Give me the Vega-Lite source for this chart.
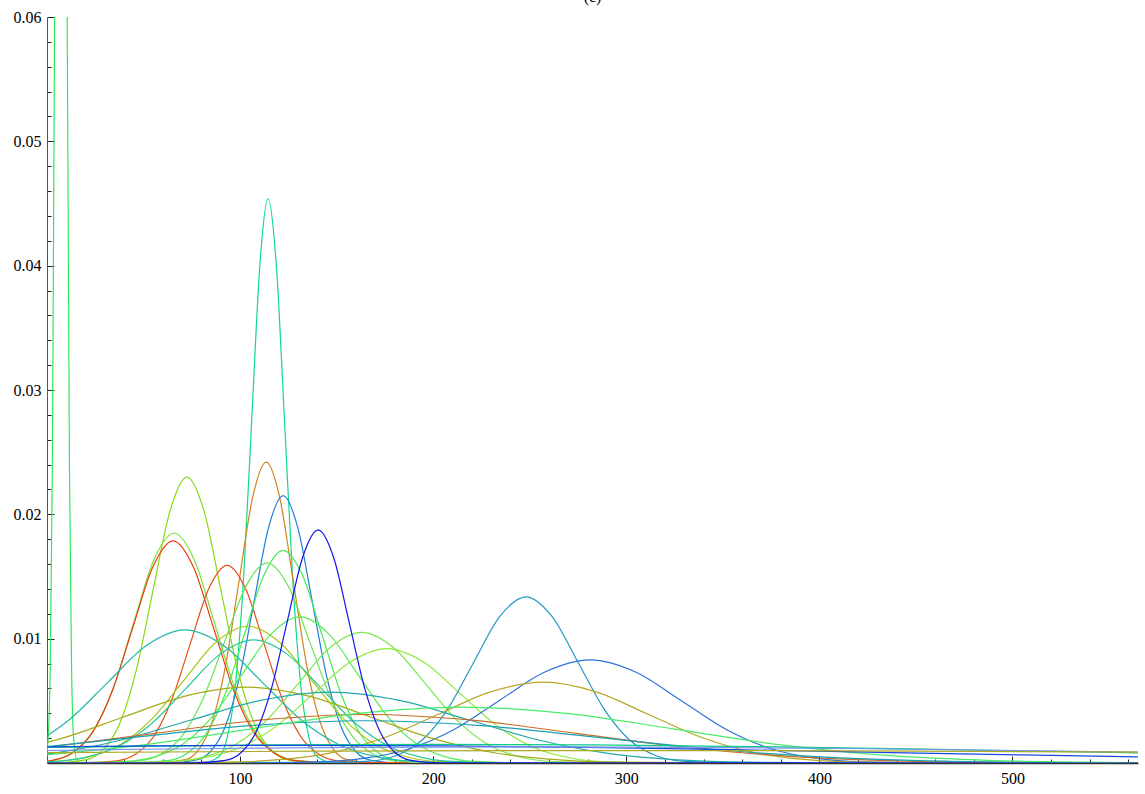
{
  "$schema": "https://vega.github.io/schema/vega-lite/v6.json",
  "width": 1091,
  "height": 746,
  "autosize": {"type": "none"},
  "padding": {"left": 47, "top": 17, "right": 7, "bottom": 31},
  "background": "white",
  "title": {"text": "(c)", "font": "Liberation Serif", "fontSize": 16, "fontWeight": "normal", "color": "#000", "anchor": "middle", "baseline": "bottom", "offset": 2, "dy": 14},
  "config": {"view": {"stroke": null}},
  "data": {"values": [
    {"c":"A","x":0,"y":0.0009},{"c":"A","x":0.6,"y":0.002},{"c":"A","x":1.7,"y":0.00791},{"c":"A","x":2.8,"y":0.02436},{"c":"A","x":3.9,"y":0.05844},{"c":"A","x":5.0,"y":0.10918},{"c":"A","x":6.1,"y":0.15885},{"c":"A","x":7.2,"y":0.18},{"c":"A","x":8.3,"y":0.15885},{"c":"A","x":9.4,"y":0.10918},{"c":"A","x":10.5,"y":0.05844},{"c":"A","x":11.6,"y":0.02436},{"c":"A","x":12.7,"y":0.00791},{"c":"A","x":13.8,"y":0.002},{"c":"A","x":16,"y":0.00006},{"c":"A","x":565,"y":0},
    {"c":"B","x":0,"y":0},{"c":"B","x":80.5,"y":0.000015},{"c":"B","x":89,"y":0.000504},{"c":"B","x":93.25,"y":0.001995},{"c":"B","x":97.5,"y":0.006144},{"c":"B","x":101.75,"y":0.014739},{"c":"B","x":106,"y":0.027536},{"c":"B","x":110.25,"y":0.040066},{"c":"B","x":114.5,"y":0.0454},{"c":"B","x":118.75,"y":0.040066},{"c":"B","x":123,"y":0.027536},{"c":"B","x":127.25,"y":0.014739},{"c":"B","x":131.5,"y":0.006144},{"c":"B","x":135.75,"y":0.001995},{"c":"B","x":140,"y":0.000504},{"c":"B","x":148.5,"y":0.000015},{"c":"B","x":565,"y":0},
    {"c":"C","x":0,"y":0},{"c":"C","x":57.5,"y":0.000008},{"c":"C","x":71.5,"y":0.000269},{"c":"C","x":78.5,"y":0.001063},{"c":"C","x":85.5,"y":0.003275},{"c":"C","x":92.5,"y":0.007857},{"c":"C","x":99.5,"y":0.014678},{"c":"C","x":106.5,"y":0.021357},{"c":"C","x":113.5,"y":0.0242},{"c":"C","x":120.5,"y":0.021357},{"c":"C","x":127.5,"y":0.014678},{"c":"C","x":134.5,"y":0.007857},{"c":"C","x":141.5,"y":0.003275},{"c":"C","x":148.5,"y":0.001063},{"c":"C","x":155.5,"y":0.000269},{"c":"C","x":169.5,"y":0.000008},{"c":"C","x":565,"y":0},
    {"c":"D","x":0,"y":0},{"c":"D","x":62.3,"y":0.000007},{"c":"D","x":77.3,"y":0.000239},{"c":"D","x":84.8,"y":0.000945},{"c":"D","x":92.3,"y":0.00291},{"c":"D","x":99.8,"y":0.00698},{"c":"D","x":107.3,"y":0.01304},{"c":"D","x":114.8,"y":0.018974},{"c":"D","x":122.3,"y":0.0215},{"c":"D","x":129.8,"y":0.018974},{"c":"D","x":137.3,"y":0.01304},{"c":"D","x":144.8,"y":0.00698},{"c":"D","x":152.3,"y":0.00291},{"c":"D","x":159.8,"y":0.000945},{"c":"D","x":167.3,"y":0.000239},{"c":"D","x":182.3,"y":0.000007},{"c":"D","x":565,"y":0},
    {"c":"F","x":0,"y":0},{"c":"F","x":2.5,"y":0.000008},{"c":"F","x":20,"y":0.000256},{"c":"F","x":28.75,"y":0.001011},{"c":"F","x":37.5,"y":0.003113},{"c":"F","x":46.25,"y":0.007467},{"c":"F","x":55,"y":0.01395},{"c":"F","x":63.75,"y":0.020298},{"c":"F","x":72.5,"y":0.023},{"c":"F","x":81.25,"y":0.020298},{"c":"F","x":90,"y":0.01395},{"c":"F","x":98.75,"y":0.007467},{"c":"F","x":107.5,"y":0.003113},{"c":"F","x":116.25,"y":0.001011},{"c":"F","x":125,"y":0.000256},{"c":"F","x":142.5,"y":0.000008},{"c":"F","x":565,"y":0},
    {"c":"G","x":0,"y":0.000137},{"c":"G","x":2.8,"y":0.000206},{"c":"G","x":13.3,"y":0.000813},{"c":"G","x":23.8,"y":0.002504},{"c":"G","x":34.3,"y":0.006006},{"c":"G","x":44.8,"y":0.011221},{"c":"G","x":55.3,"y":0.016326},{"c":"G","x":65.8,"y":0.0185},{"c":"G","x":76.3,"y":0.016326},{"c":"G","x":86.8,"y":0.011221},{"c":"G","x":97.3,"y":0.006006},{"c":"G","x":107.8,"y":0.002504},{"c":"G","x":118.3,"y":0.000813},{"c":"G","x":128.8,"y":0.000206},{"c":"G","x":149.8,"y":0.000006},{"c":"G","x":565,"y":0},
    {"c":"H","x":0,"y":0.000142},{"c":"H","x":2.3,"y":0.000198},{"c":"H","x":12.8,"y":0.000785},{"c":"H","x":23.3,"y":0.002417},{"c":"H","x":33.8,"y":0.005798},{"c":"H","x":44.3,"y":0.010833},{"c":"H","x":54.8,"y":0.015761},{"c":"H","x":65.3,"y":0.01786},{"c":"H","x":75.8,"y":0.015761},{"c":"H","x":86.3,"y":0.010833},{"c":"H","x":96.8,"y":0.005798},{"c":"H","x":107.3,"y":0.002417},{"c":"H","x":117.8,"y":0.000785},{"c":"H","x":128.3,"y":0.000198},{"c":"H","x":149.3,"y":0.000006},{"c":"H","x":565,"y":0},
    {"c":"I","x":0,"y":0},{"c":"I","x":17.3,"y":0.000005},{"c":"I","x":36.3,"y":0.000177},{"c":"I","x":45.8,"y":0.000699},{"c":"I","x":55.3,"y":0.002152},{"c":"I","x":64.8,"y":0.005162},{"c":"I","x":74.3,"y":0.009644},{"c":"I","x":83.8,"y":0.014032},{"c":"I","x":93.3,"y":0.0159},{"c":"I","x":102.8,"y":0.014032},{"c":"I","x":112.3,"y":0.009644},{"c":"I","x":121.8,"y":0.005162},{"c":"I","x":131.3,"y":0.002152},{"c":"I","x":140.8,"y":0.000699},{"c":"I","x":150.3,"y":0.000177},{"c":"I","x":169.3,"y":0.000005},{"c":"I","x":565,"y":0},
    {"c":"J","x":0,"y":0},{"c":"J","x":42.3,"y":0.000006},{"c":"J","x":62.3,"y":0.00019},{"c":"J","x":72.3,"y":0.000751},{"c":"J","x":82.3,"y":0.002314},{"c":"J","x":92.3,"y":0.005552},{"c":"J","x":102.3,"y":0.010372},{"c":"J","x":112.3,"y":0.015091},{"c":"J","x":122.3,"y":0.0171},{"c":"J","x":132.3,"y":0.015091},{"c":"J","x":142.3,"y":0.010372},{"c":"J","x":152.3,"y":0.005552},{"c":"J","x":162.3,"y":0.002314},{"c":"J","x":172.3,"y":0.000751},{"c":"J","x":182.3,"y":0.00019},{"c":"J","x":202.3,"y":0.000006},{"c":"J","x":565,"y":0},
    {"c":"K","x":0,"y":0},{"c":"K","x":26,"y":0.000005},{"c":"K","x":48,"y":0.000179},{"c":"K","x":59,"y":0.000707},{"c":"K","x":70,"y":0.002179},{"c":"K","x":81,"y":0.005227},{"c":"K","x":92,"y":0.009765},{"c":"K","x":103,"y":0.014208},{"c":"K","x":114,"y":0.0161},{"c":"K","x":125,"y":0.014208},{"c":"K","x":136,"y":0.009765},{"c":"K","x":147,"y":0.005227},{"c":"K","x":158,"y":0.002179},{"c":"K","x":169,"y":0.000707},{"c":"K","x":180,"y":0.000179},{"c":"K","x":202,"y":0.000005},{"c":"K","x":565,"y":0},
    {"c":"L","x":0,"y":0.002166},{"c":"L","x":11.5,"y":0.003474},{"c":"L","x":31.5,"y":0.00649},{"c":"L","x":51.5,"y":0.009443},{"c":"L","x":71.5,"y":0.0107},{"c":"L","x":91.5,"y":0.009443},{"c":"L","x":111.5,"y":0.00649},{"c":"L","x":131.5,"y":0.003474},{"c":"L","x":151.5,"y":0.001448},{"c":"L","x":171.5,"y":0.00047},{"c":"L","x":191.5,"y":0.000119},{"c":"L","x":231.5,"y":0.000004},{"c":"L","x":565,"y":0},
    {"c":"M","x":0,"y":0.000077},{"c":"M","x":5,"y":0.000122},{"c":"M","x":21.5,"y":0.000483},{"c":"M","x":38,"y":0.001489},{"c":"M","x":54.5,"y":0.003571},{"c":"M","x":71,"y":0.006672},{"c":"M","x":87.5,"y":0.009708},{"c":"M","x":104,"y":0.011},{"c":"M","x":120.5,"y":0.009708},{"c":"M","x":137,"y":0.006672},{"c":"M","x":153.5,"y":0.003571},{"c":"M","x":170,"y":0.001489},{"c":"M","x":186.5,"y":0.000483},{"c":"M","x":203,"y":0.000122},{"c":"M","x":236,"y":0.000004},{"c":"M","x":565,"y":0},
    {"c":"N","x":0,"y":0.000093},{"c":"N","x":2,"y":0.00011},{"c":"N","x":19.5,"y":0.000435},{"c":"N","x":37,"y":0.00134},{"c":"N","x":54.5,"y":0.003214},{"c":"N","x":72,"y":0.006005},{"c":"N","x":89.5,"y":0.008737},{"c":"N","x":107,"y":0.0099},{"c":"N","x":124.5,"y":0.008737},{"c":"N","x":142,"y":0.006005},{"c":"N","x":159.5,"y":0.003214},{"c":"N","x":177,"y":0.00134},{"c":"N","x":194.5,"y":0.000435},{"c":"N","x":212,"y":0.00011},{"c":"N","x":247,"y":0.000003},{"c":"N","x":565,"y":0},
    {"c":"O","x":0,"y":0},{"c":"O","x":11,"y":0.000004},{"c":"O","x":41,"y":0.000131},{"c":"O","x":56,"y":0.000516},{"c":"O","x":71,"y":0.00159},{"c":"O","x":86,"y":0.003815},{"c":"O","x":101,"y":0.007127},{"c":"O","x":116,"y":0.010369},{"c":"O","x":131,"y":0.01175},{"c":"O","x":146,"y":0.010369},{"c":"O","x":161,"y":0.007127},{"c":"O","x":176,"y":0.003815},{"c":"O","x":191,"y":0.00159},{"c":"O","x":206,"y":0.000516},{"c":"O","x":221,"y":0.000131},{"c":"O","x":251,"y":0.000004},{"c":"O","x":565,"y":0},
    {"c":"P","x":0,"y":0},{"c":"P","x":31,"y":0.000004},{"c":"P","x":64,"y":0.000117},{"c":"P","x":80.5,"y":0.000461},{"c":"P","x":97,"y":0.001421},{"c":"P","x":113.5,"y":0.003409},{"c":"P","x":130,"y":0.006369},{"c":"P","x":146.5,"y":0.009266},{"c":"P","x":163,"y":0.0105},{"c":"P","x":179.5,"y":0.009266},{"c":"P","x":196,"y":0.006369},{"c":"P","x":212.5,"y":0.003409},{"c":"P","x":229,"y":0.001421},{"c":"P","x":245.5,"y":0.000461},{"c":"P","x":262,"y":0.000117},{"c":"P","x":295,"y":0.000004},{"c":"P","x":565,"y":0},
    {"c":"Q","x":0,"y":0},{"c":"Q","x":24,"y":0.000003},{"c":"Q","x":62,"y":0.000102},{"c":"Q","x":81,"y":0.000404},{"c":"Q","x":100,"y":0.001245},{"c":"Q","x":119,"y":0.002987},{"c":"Q","x":138,"y":0.00558},{"c":"Q","x":157,"y":0.008119},{"c":"Q","x":176,"y":0.0092},{"c":"Q","x":195,"y":0.008119},{"c":"Q","x":214,"y":0.00558},{"c":"Q","x":233,"y":0.002987},{"c":"Q","x":252,"y":0.001245},{"c":"Q","x":271,"y":0.000404},{"c":"Q","x":290,"y":0.000102},{"c":"Q","x":328,"y":0.000003},{"c":"Q","x":565,"y":0},
    {"c":"R","x":0,"y":0},{"c":"R","x":140,"y":0.000005},{"c":"R","x":167,"y":0.000148},{"c":"R","x":180.5,"y":0.000587},{"c":"R","x":194,"y":0.001808},{"c":"R","x":207.5,"y":0.004337},{"c":"R","x":221,"y":0.008103},{"c":"R","x":234.5,"y":0.01179},{"c":"R","x":248,"y":0.01336},{"c":"R","x":261.5,"y":0.01179},{"c":"R","x":275,"y":0.008103},{"c":"R","x":288.5,"y":0.004337},{"c":"R","x":302,"y":0.001808},{"c":"R","x":315.5,"y":0.000587},{"c":"R","x":329,"y":0.000148},{"c":"R","x":356,"y":0.000005},{"c":"R","x":565,"y":0},
    {"c":"S","x":0,"y":0},{"c":"S","x":93.3,"y":0.000003},{"c":"S","x":140.3,"y":0.000092},{"c":"S","x":163.8,"y":0.000365},{"c":"S","x":187.3,"y":0.001123},{"c":"S","x":210.8,"y":0.002695},{"c":"S","x":234.3,"y":0.005034},{"c":"S","x":257.8,"y":0.007325},{"c":"S","x":281.3,"y":0.0083},{"c":"S","x":304.8,"y":0.007325},{"c":"S","x":328.3,"y":0.005034},{"c":"S","x":351.8,"y":0.002695},{"c":"S","x":375.3,"y":0.001123},{"c":"S","x":398.8,"y":0.000365},{"c":"S","x":422.3,"y":0.000092},{"c":"S","x":469.3,"y":0.000003},{"c":"S","x":565,"y":0},
    {"c":"T","x":0,"y":0},{"c":"T","x":41,"y":0.000002},{"c":"T","x":95,"y":0.000072},{"c":"T","x":122,"y":0.000286},{"c":"T","x":149,"y":0.00088},{"c":"T","x":176,"y":0.00211},{"c":"T","x":203,"y":0.003942},{"c":"T","x":230,"y":0.005736},{"c":"T","x":257,"y":0.0065},{"c":"T","x":284,"y":0.005736},{"c":"T","x":311,"y":0.003942},{"c":"T","x":338,"y":0.00211},{"c":"T","x":365,"y":0.00088},{"c":"T","x":392,"y":0.000286},{"c":"T","x":419,"y":0.000072},{"c":"T","x":473,"y":0.000002},{"c":"T","x":565,"y":0},
    {"c":"U","x":0,"y":0.00165},{"c":"U","x":7.6,"y":0.00198},{"c":"U","x":39.6,"y":0.0037},{"c":"U","x":71.6,"y":0.005383},{"c":"U","x":103.6,"y":0.0061},{"c":"U","x":135.6,"y":0.005383},{"c":"U","x":167.6,"y":0.0037},{"c":"U","x":199.6,"y":0.00198},{"c":"U","x":231.6,"y":0.000826},{"c":"U","x":263.6,"y":0.000268},{"c":"U","x":295.6,"y":0.000068},{"c":"U","x":359.6,"y":0.000002},{"c":"U","x":565,"y":0},
    {"c":"V","x":0,"y":0.000717},{"c":"V","x":2.6,"y":0.000771},{"c":"V","x":38.6,"y":0.001851},{"c":"V","x":74.6,"y":0.003457},{"c":"V","x":110.6,"y":0.00503},{"c":"V","x":146.6,"y":0.0057},{"c":"V","x":182.6,"y":0.00503},{"c":"V","x":218.6,"y":0.003457},{"c":"V","x":254.6,"y":0.001851},{"c":"V","x":290.6,"y":0.000771},{"c":"V","x":326.6,"y":0.00025},{"c":"V","x":362.6,"y":0.000063},{"c":"V","x":434.6,"y":0.000002},{"c":"V","x":565,"y":0},
    {"c":"W","x":0,"y":0.001266},{"c":"W","x":55,"y":0.002365},{"c":"W","x":110,"y":0.003442},{"c":"W","x":165,"y":0.0039},{"c":"W","x":220,"y":0.003442},{"c":"W","x":275,"y":0.002365},{"c":"W","x":330,"y":0.001266},{"c":"W","x":385,"y":0.000528},{"c":"W","x":440,"y":0.000171},{"c":"W","x":495,"y":0.000043},{"c":"W","x":565,"y":0.000005},
    {"c":"X","x":0,"y":0.001321},{"c":"X","x":45,"y":0.002062},{"c":"X","x":105,"y":0.003001},{"c":"X","x":165,"y":0.0034},{"c":"X","x":225,"y":0.003001},{"c":"X","x":285,"y":0.002062},{"c":"X","x":345,"y":0.001104},{"c":"X","x":405,"y":0.00046},{"c":"X","x":465,"y":0.000149},{"c":"X","x":525,"y":0.000038},{"c":"X","x":565,"y":0.000013},
    {"c":"Y","x":0,"y":0.000666},{"c":"Y","x":50,"y":0.001461},{"c":"Y","x":105,"y":0.002729},{"c":"Y","x":160,"y":0.003971},{"c":"Y","x":215,"y":0.0045},{"c":"Y","x":270,"y":0.003971},{"c":"Y","x":325,"y":0.002729},{"c":"Y","x":380,"y":0.001461},{"c":"Y","x":435,"y":0.000609},{"c":"Y","x":490,"y":0.000198},{"c":"Y","x":545,"y":0.00005},{"c":"Y","x":565,"y":0.000029},
    {"c":"Z","x":0,"y":0.00125},{"c":"Z","x":35,"y":0.001324},{"c":"Z","x":117.5,"y":0.001454},{"c":"Z","x":200,"y":0.0015},{"c":"Z","x":282.5,"y":0.001454},{"c":"Z","x":365,"y":0.001324},{"c":"Z","x":447.5,"y":0.001132},{"c":"Z","x":530,"y":0.00091},{"c":"Z","x":565,"y":0.000814},
    {"c":"AA","x":0,"y":0.001293},{"c":"AA","x":55,"y":0.001376},{"c":"AA","x":130,"y":0.00142},{"c":"AA","x":205,"y":0.001376},{"c":"AA","x":280,"y":0.001253},{"c":"AA","x":355,"y":0.001072},{"c":"AA","x":430,"y":0.000861},{"c":"AA","x":505,"y":0.00065},{"c":"AA","x":565,"y":0.000496},
    {"c":"AB","x":0,"y":0.001007},{"c":"AB","x":75,"y":0.001147},{"c":"AB","x":162.5,"y":0.00126},{"c":"AB","x":250,"y":0.0013},{"c":"AB","x":337.5,"y":0.00126},{"c":"AB","x":425,"y":0.001147},{"c":"AB","x":512.5,"y":0.000981},{"c":"AB","x":565,"y":0.000867},
    {"c":"AC","x":0,"y":0.000835},{"c":"AC","x":150,"y":0.000956},{"c":"AC","x":300,"y":0.001},{"c":"AC","x":450,"y":0.000956},{"c":"AC","x":565,"y":0.000869},
    {"c":"E","x":0,"y":0},{"c":"E","x":76.4,"y":0.000006},{"c":"E","x":92.4,"y":0.000208},{"c":"E","x":100.4,"y":0.000824},{"c":"E","x":108.4,"y":0.002538},{"c":"E","x":116.4,"y":0.006087},{"c":"E","x":124.4,"y":0.011372},{"c":"E","x":132.4,"y":0.016547},{"c":"E","x":140.4,"y":0.01875},{"c":"E","x":148.4,"y":0.016547},{"c":"E","x":156.4,"y":0.011372},{"c":"E","x":164.4,"y":0.006087},{"c":"E","x":172.4,"y":0.002538},{"c":"E","x":180.4,"y":0.000824},{"c":"E","x":188.4,"y":0.000208},{"c":"E","x":204.4,"y":0.000006},{"c":"E","x":565,"y":0}
  ]},
  "mark": {"type": "line", "clip": true, "interpolate": "monotone", "strokeWidth": 1.2},
  "encoding": {
    "x": {
      "field": "x", "type": "quantitative",
      "scale": {"domain": [0, 565], "nice": false, "zero": false},
      "axis": {
        "title": null, "grid": false,
        "values": [20,40,60,80,100,120,140,160,180,200,220,240,260,280,300,320,340,360,380,400,420,440,460,480,500,520,540,560],
        "labelExpr": "datum.value % 100 === 0 ? datum.label : ''",
        "labelFont": "Liberation Serif", "labelFontSize": 16, "labelColor": "#000",
        "labelPadding": 14,
        "domainColor": "#333", "domainWidth": 1.5,
        "tickColor": "#222", "tickWidth": 1,
        "tickSize": {"condition": {"test": "datum.value % 100 === 0", "value": -7}, "value": -4}
      }
    },
    "y": {
      "field": "y", "type": "quantitative",
      "scale": {"domain": [0, 0.06], "nice": false, "zero": true},
      "axis": {
        "title": null, "grid": false,
        "values": [0.002,0.004,0.006,0.008,0.01,0.012,0.014,0.016,0.018,0.02,0.022,0.024,0.026,0.028,0.03,0.032,0.034,0.036,0.038,0.04,0.042,0.044,0.046,0.048,0.05,0.052,0.054,0.056,0.058,0.06],
        "labelExpr": "abs(datum.value * 100 - round(datum.value * 100)) < 0.001 ? format(datum.value, '.2f') : ''",
        "labelFont": "Liberation Serif", "labelFontSize": 16, "labelColor": "#000",
        "labelPadding": 13,
        "domainColor": "#555", "domainWidth": 1,
        "tickColor": "#222", "tickWidth": 1,
        "tickSize": {"condition": {"test": "abs(datum.value * 100 - round(datum.value * 100)) < 0.001", "value": -7}, "value": -4}
      }
    },
    "color": {
      "field": "c", "type": "nominal", "legend": null,
      "scale": {
        "domain": ["A","B","C","D","F","G","H","I","J","K","L","M","N","O","P","Q","R","S","T","U","V","W","X","Y","Z","AA","AB","AC","E"],
        "range": ["#2ee85a","#0fd98a","#d5811f","#1e7fd6","#8ad816","#7fdf3a","#ee3a12","#ea4a12","#46ea56","#6ee35a","#20b8a8","#a8c814","#28c896","#56ec56","#7ae84a","#8ee83a","#2299c8","#2a72dc","#b8a524","#a6aa18","#22a8aa","#cc6a24","#1aa0b4","#48ec68","#0ccc8a","#1848dc","#7896ea","#aaaa26","#1414e8"]
      }
    }
  }
}
